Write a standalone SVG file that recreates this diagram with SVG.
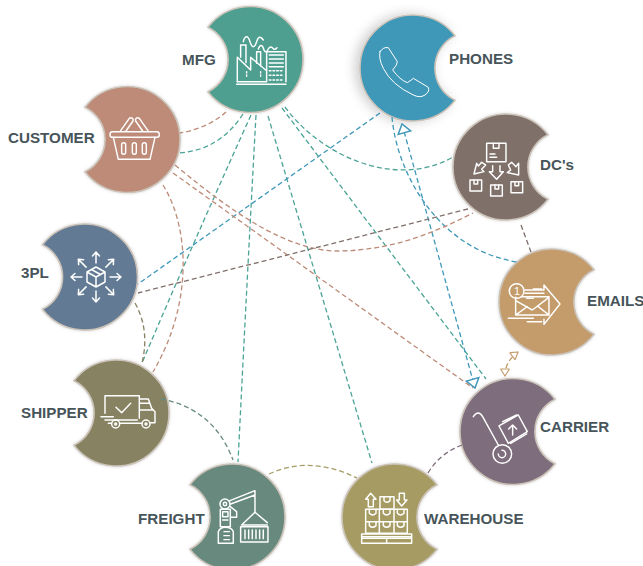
<svg xmlns="http://www.w3.org/2000/svg" width="643" height="566" viewBox="0 0 643 566">
<style>
.lb{font-family:"Liberation Sans",Arial,sans-serif;font-weight:700;font-size:15.2px;fill:#47555a}
.c{fill:none;stroke-width:1.3;stroke-dasharray:5 3}
.ic{fill:none;stroke:#fff;stroke-width:4.4;stroke-linecap:round;stroke-linejoin:round}
.ia{fill:none;stroke:#fff;stroke-width:1.5;stroke-linecap:round;stroke-linejoin:round}
.sh{stroke:#cbc2b8;stroke-width:1.6;filter:url(#glow)}
</style>
<defs>
<filter id="glow" x="-20%" y="-20%" width="140%" height="140%"><feDropShadow dx="0" dy="0" stdDeviation="1.5" flood-color="#000" flood-opacity=".18"/></filter>
<filter id="glowP" x="-30%" y="-30%" width="160%" height="160%"><feDropShadow dx="-4" dy="0" stdDeviation="6" flood-color="#000" flood-opacity=".2"/></filter>
<path id="bl" d="M-42,-32.3A53,53 0 1 1 -42,32.3A36,36 0 0 0 -42,-32.3Z"/>
<path id="br" d="M42,-32.3A53,53 0 1 0 42,32.3A36,36 0 0 1 42,-32.3Z"/>
<marker id="aB" markerUnits="userSpaceOnUse" viewBox="-1 -8 11 16" markerWidth="11" markerHeight="16" refX="9" refY="0" orient="auto-start-reverse"><path d="M0,-6.5L9,0L0,6.5Z" fill="#fff" stroke="#3f98b9" stroke-width="1.5"/></marker>
<marker id="aT" markerUnits="userSpaceOnUse" viewBox="-1 -6 9 12" markerWidth="9" markerHeight="12" refX="7" refY="0" orient="auto-start-reverse"><path d="M0,-4.5L7,0L0,4.5M0,-4.5V4.5" fill="#fff" stroke="#c49b6a" stroke-width="1.1"/></marker>
<g id="ar"><path d="M0,-14V-25M-3.5,-21L0,-25L3.5,-21"/></g>
</defs>

<g id="n-mfg">
<use href="#bl" transform="translate(250,59.5)" fill="#4f9f90" class="sh"/>
<text class="lb" x="182" y="64.5">MFG</text>
<g class="ic" transform="scale(.3333)">
<path d="M710,253H858M800,245V155H858V245M712,245H800"/>
<path d="M808,165H850M808,177H850M808,189H850M808,200H850"/>
<path d="M808,212H850M808,226H850M808,240H850" stroke-dasharray="5 6"/>
<path d="M712,245V172L752,210V172L797,210"/>
<path d="M722,172V135H738V188M770,190V155H782V198"/>
<path d="M740,215V235M782,215V235" stroke-dasharray="4 6"/>
<path d="M730,125c5,-20 14,-20 20,0s14,20 20,0s14,-14 20,-5M775,147c5,-14 12,-14 16,0s10,8 14,0s10,-8 14,-2s8,2 12,-2"/>
</g>
</g>

<g id="n-customer">
<use href="#bl" transform="translate(127,139.5)" fill="#bd8b78" class="sh"/>
<text class="lb" x="8" y="143">CUSTOMER</text>
<g class="ic" transform="scale(.3333)">
<rect x="330" y="395" width="148" height="17" rx="8"/>
<path d="M340,412L355,478H450L465,412"/>
<rect x="365" y="428" width="12" height="35" rx="6"/><rect x="397" y="428" width="12" height="35" rx="6"/><rect x="427" y="428" width="12" height="35" rx="6"/>
<path d="M362,392L388,355a7,7 0 0 1 11,8L378,393M444,392L418,355a7,7 0 0 0 -11,8L428,393"/>
</g>
</g>

<g id="n-3pl">
<use href="#bl" transform="translate(84.5,277)" fill="#647a94" class="sh"/>
<text class="lb" x="21" y="278">3PL</text>
<g class="ia" transform="translate(96,277)">
<use href="#ar"/><use href="#ar" transform="rotate(45)"/><use href="#ar" transform="rotate(90)"/><use href="#ar" transform="rotate(135)"/><use href="#ar" transform="rotate(180)"/><use href="#ar" transform="rotate(225)"/><use href="#ar" transform="rotate(270)"/><use href="#ar" transform="rotate(315)"/>
<path d="M0,-10L9,-5V5L0,10L-9,5V-5ZM-9,-5L0,0L9,-5M0,0V10M-4.5,-7.5L4.5,-2.5"/>
</g>
</g>

<g id="n-shipper">
<use href="#bl" transform="translate(116,413)" fill="#878262" class="sh"/>
<text class="lb" x="21" y="418">SHIPPER</text>
<g class="ic" transform="translate(0,280) scale(.3333)">
<path d="M315,400V347H418V415M348,382L365,398L392,370"/>
<path d="M420,357H445L455,385L465,395V428H452M420,370H448M420,390H458"/>
<circle cx="347" cy="432" r="12"/><circle cx="438" cy="432" r="12"/><circle cx="347" cy="432" r="3"/><circle cx="438" cy="432" r="3"/>
<path d="M360,430H425M303,410H340M315,420H412M325,430H334"/>
</g>
</g>

<g id="n-freight">
<use href="#bl" transform="translate(232,517)" fill="#688a7e" class="sh"/>
<text class="lb" x="138" y="524">FREIGHT</text>
<g class="ic" transform="translate(0,280) scale(.3333)">
<circle cx="675" cy="672" r="15"/><circle cx="675" cy="672" r="5"/>
<rect x="661" y="688" width="30" height="52"/>
<path d="M668,695H684V710H668ZM668,720H684"/>
<path d="M690,662L765,632M692,672L765,645M765,632V695M691,680L710,695V712H693"/>
<path d="M725,735L765,697L802,728M725,735H802"/>
<rect x="722" y="740" width="82" height="46"/>
<path d="M735,750V776M746,750V776M757,750V776M768,750V776M779,750V776M790,750V776"/>
<path d="M655,790V755Q660,742 676,742Q695,742 700,755V790M672,755H688M672,767H688M672,779H688M655,790H700"/>
</g>
</g>

<g id="n-warehouse">
<use href="#br" transform="translate(395,517)" fill="#a69c64" class="sh"/>
<text class="lb" x="424" y="524">WAREHOUSE</text>
<g class="ic" transform="translate(320,280) scale(.3333)">
<path d="M152,640L137,658H145V680H160V658H168ZM245,678L230,660H238V640H253V660H261Z"/>
<rect x="180" y="650" width="42" height="38"/>
<path d="M137,688H262V760H137ZM137,725H262M178,688V760M222,688V760"/>
<path d="M192,650V662Q200,672 210,662V650M148,688V700Q158,710 168,700V688M190,688V700Q200,710 210,700V688M232,688V700Q242,710 252,700V688M148,725V737Q158,747 168,737V725M190,725V737Q200,747 210,737V725M232,725V737Q242,747 252,737V725"/>
<path d="M125,762H275V775H125ZM125,790H275M125,775V790M275,775V790M200,775V790M125,770H275"/>
</g>
</g>

<g id="n-carrier">
<use href="#br" transform="translate(513,431.5)" fill="#7e6d7c" class="sh"/>
<text class="lb" x="540" y="432">CARRIER</text>
<g class="ic" transform="translate(320,280) scale(.3333)">
<path d="M460,410Q475,388 488,410L535,495"/>
<circle cx="547" cy="522" r="28"/><path d="M535,522a11,11 0 1 0 11,-11"/>
<path d="M572,490L620,462"/>
<path d="M537,438L595,405L622,455L565,490ZM548,425L590,405"/>
<path d="M578,465V437M566,447L578,435L590,447"/>
</g>
</g>

<g id="n-emails">
<use href="#br" transform="translate(552,302)" fill="#c49b6a" class="sh"/>
<text class="lb" x="587" y="306">EMAILS</text>
<g class="ic" transform="translate(320,280) scale(.3333)">
<circle cx="590" cy="33" r="22"/>
<path d="M587,52V105H687V50H605M587,62L637,90L687,52M587,105L622,80M687,105L655,80"/>
<path d="M615,30H672V15L720,72L672,133V118M565,115H640M622,125H665M640,27H665M615,40H672M620,55H640"/>
</g>
<text x="514" y="295" font-family="Liberation Sans,Arial,sans-serif" font-size="11" fill="#fff">1</text>
</g>

<g id="n-dcs">
<use href="#br" transform="translate(506,167)" fill="#7f706b" class="sh"/>
<text class="lb" x="540" y="170">DC's</text>
<g class="ic" transform="translate(320,0) scale(.3333)">
<rect x="500" y="430" width="58" height="55"/>
<path d="M520,430V445H537V430M510,462H525M510,472H530"/>
<path d="M518,497V515H508L530,538L550,515H540V497"/>
<path d="M470,490L462,522L492,515L485,508L497,495L485,487L475,498Z"/>
<path d="M565,495L575,487L588,500L596,490V525L562,518L572,510Z"/>
<rect x="450" y="540" width="35" height="33"/><rect x="512" y="555" width="35" height="33"/><rect x="573" y="545" width="35" height="33"/>
<path d="M462,540V552H473V540M525,555V567H536V555M585,545V557H596V545"/>
</g>
</g>

<g id="n-phones">
<use href="#br" transform="translate(413,68)" fill="#3f98b9" stroke="#cbc2b8" stroke-width="1.6" filter="url(#glowP)"/>
<text class="lb" x="449" y="64">PHONES</text>
<g class="ic" style="stroke-width:3" transform="translate(320,0) scale(.3333)">
<path d="M180,155Q190,140 205,143L232,185Q232,195 218,210Q240,240 262,248Q275,240 280,235L325,262Q330,275 315,285Q300,295 280,285Q215,255 190,205Q175,175 180,155Z"/>
</g>
</g>

<g id="connectors">
<g stroke="#4aa396">
<path class="c" d="M243,114Q220,150 179,153"/>
<path class="c" d="M251,115Q190,250 142,363"/>
<path class="c" d="M256,115Q247,280 238,462"/>
<path class="c" d="M268,116L372,463"/>
<path class="c" d="M285,107C320,155 395,190 453,157"/>
<path class="c" d="M282,108Q370,225 486,379"/>
</g>
<g stroke="#3f98b9">
<path class="c" d="M380,113L138,284"/>
<path class="c" d="M392,117C397,175 440,250 517,262"/>
<path class="c" d="M402,124L475,388" marker-start="url(#aB)" marker-end="url(#aB)"/>
</g>
<g stroke="#bd8b78">
<path class="c" d="M226,112Q208,128 180,133"/>
<path class="c" d="M175,165C235,215 290,252 340,251S430,235 473,213"/>
<path class="c" d="M173,173L473,388"/>
<path class="c" d="M163,185C188,225 195,300 153,372"/>
</g>
<g stroke="#7f706b">
<path class="c" d="M468,209L138,293"/>
<path class="c" d="M521,225L531,252"/>
</g>
<path class="c" stroke="#878262" d="M135,303Q150,330 142,363"/>
<path class="c" stroke="#688a7e" d="M161,399C195,405 220,425 233,460"/>
<path class="c" stroke="#a69c64" d="M269,474Q310,455 357,478"/>
<path class="c" stroke="#7e6d7c" d="M428,473Q440,453 462,445"/>
<path class="c" stroke="#c49b6a" d="M505,376C505,365 510,358 518,352" marker-start="url(#aT)" marker-end="url(#aT)"/>
</g>
</svg>
